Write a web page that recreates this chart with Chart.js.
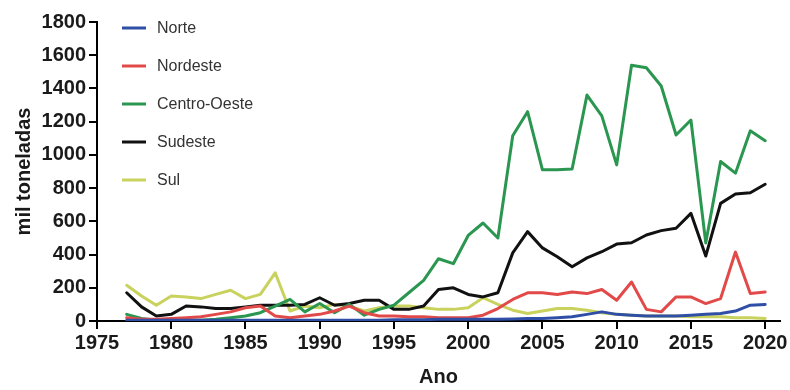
<!DOCTYPE html>
<html>
<head>
<meta charset="utf-8">
<script src="https://cdn.jsdelivr.net/npm/chart.js@4.4.1/dist/chart.umd.min.js"></script>
<style>
  html, body { margin: 0; padding: 0; background: #ffffff; }
  #wrap { width: 790px; height: 390px; position: relative; }
</style>
</head>
<body>
<div id="wrap"><canvas id="chart" width="790" height="390"></canvas></div>
<script>
// Production by region, thousand tonnes per year
const years = [1977, 1978, 1979, 1980, 1981, 1982, 1983, 1984, 1985, 1986,
               1987, 1988, 1989, 1990, 1991, 1992, 1993, 1994, 1995, 1996,
               1997, 1998, 1999, 2000, 2001, 2002, 2003, 2004, 2005, 2006,
               2007, 2008, 2009, 2010, 2011, 2012, 2013, 2014, 2015, 2016,
               2017, 2018, 2019, 2020];

const norte = [5, 5, 5, 5, 5, 5, 5, 5, 5, 5,
               5, 5, 5, 5, 5, 5, 5, 5, 8, 8,
               8, 10, 10, 10, 10, 10, 12, 15, 15, 20,
               25, 40, 55, 40, 35, 30, 30, 30, 35, 40,
               45, 60, 95, 100];

const nordeste = [20, 10, 10, 15, 20, 25, 40, 55, 80, 90,
                  30, 20, 30, 40, 60, 90, 50, 30, 30, 25,
                  25, 20, 20, 20, 35, 75, 130, 170, 170, 160,
                  175, 165, 190, 125, 235, 70, 55, 145, 145, 105,
                  135, 415, 165, 175];

const centroOeste = [40, 15, 5, 5, 5, 5, 10, 20, 30, 50,
                     90, 130, 55, 105, 50, 100, 35, 70, 95, 170,
                     245, 375, 345, 515, 590, 500, 1115, 1260, 910, 910,
                     915, 1360, 1235, 940, 1540, 1525, 1415, 1120, 1210, 470,
                     960, 890, 1145, 1085];

const sudeste = [170, 85, 30, 40, 90, 85, 75, 75, 85, 95,
                 95, 95, 100, 140, 95, 105, 125, 125, 70, 70,
                 90, 190, 200, 160, 145, 170, 410, 538, 440, 387,
                 327, 380, 417, 463, 471, 518, 544, 558, 648, 391,
                 708, 764, 772, 823];

const sul = [215, 150, 95, 150, 145, 135, 160, 185, 135, 160,
             290, 60, 90, 80, 100, 90, 60, 80, 90, 90,
             80, 70, 70, 80, 140, 100, 65, 45, 60, 75,
             75, 65, 50, 40, 35, 30, 30, 30, 25, 25,
             25, 20, 20, 15];

const seriesNames = ['Norte', 'Nordeste', 'Centro-Oeste', 'Sudeste', 'Sul'];
const seriesValues = [norte, nordeste, centroOeste, sudeste, sul];
const seriesColors = ['#2f4fa6', '#e24a4a', '#2a9650', '#111111', '#c8d25c'];

const xTicks = [1975, 1980, 1985, 1990, 1995, 2000, 2005, 2010, 2015, 2020];
const yTicks = [0, 200, 400, 600, 800, 1000, 1200, 1400, 1600, 1800];

const FONT = "'Liberation Sans', Arial, Helvetica, sans-serif";

// Vertical legend drawn inside the plot's upper-left corner
const insideLegend = {
  id: 'insideLegend',
  afterDraw(chart) {
    const { ctx, chartArea } = chart;
    ctx.save();
    ctx.font = `16px ${FONT}`;
    ctx.textBaseline = 'middle';
    ctx.textAlign = 'left';
    chart.data.datasets.forEach((ds, i) => {
      const y = chartArea.top + 6 + i * 38;
      const x0 = chartArea.left + 25;
      ctx.strokeStyle = ds.borderColor;
      ctx.lineWidth = 3;
      ctx.lineCap = 'butt';
      ctx.beginPath();
      ctx.moveTo(x0, y);
      ctx.lineTo(x0 + 24, y);
      ctx.stroke();
      ctx.fillStyle = '#333333';
      ctx.fillText(ds.label, x0 + 35, y + 1);
    });
    ctx.restore();
  }
};

const datasets = seriesNames.map((name, s) => ({
  label: name,
  data: years.map((yr, i) => ({ x: yr, y: seriesValues[s][i] })),
  borderColor: seriesColors[s],
  backgroundColor: seriesColors[s],
  borderWidth: 3,
  pointRadius: 0,
  tension: 0,
  fill: false,
  borderJoinStyle: 'round',
  borderCapStyle: 'round'
}));

new Chart(document.getElementById('chart'), {
  type: 'line',
  data: { datasets },
  options: {
    responsive: false,
    animation: false,
    layout: { padding: { top: 22, right: 10, bottom: 0, left: 0 } },
    plugins: {
      legend: { display: false },
      tooltip: { enabled: false }
    },
    scales: {
      x: {
        type: 'linear',
        min: 1975,
        max: 2021,
        afterBuildTicks(scale) { scale.ticks = xTicks.map(v => ({ value: v })); },
        afterFit(scale) { scale.height = 69; },
        ticks: {
          color: '#1a1a1a',
          font: { family: FONT, size: 20, weight: 'bold' },
          padding: 2,
          maxRotation: 0,
          autoSkip: false,
          callback: v => String(v)
        },
        grid: { display: true, drawOnChartArea: false, drawTicks: true, tickLength: 8, color: '#000', lineWidth: 2 },
        border: { display: true, color: '#000', width: 2 },
        title: {
          display: true,
          text: 'Ano',
          color: '#1a1a1a',
          font: { family: FONT, size: 20, weight: 'bold' },
          padding: { top: 0, bottom: 1 }
        }
      },
      y: {
        type: 'linear',
        min: 0,
        max: 1800,
        afterBuildTicks(scale) { scale.ticks = yTicks.map(v => ({ value: v })); },
        afterFit(scale) { scale.width = 97; },
        ticks: {
          color: '#1a1a1a',
          font: { family: FONT, size: 20, weight: 'bold' },
          padding: 3,
          autoSkip: false,
          callback: v => String(v)
        },
        grid: { display: true, drawOnChartArea: false, drawTicks: true, tickLength: 8, color: '#000', lineWidth: 2 },
        border: { display: true, color: '#000', width: 2 },
        title: {
          display: true,
          text: 'mil toneladas',
          color: '#1a1a1a',
          font: { family: FONT, size: 20, weight: 'bold' },
          padding: { top: 12, bottom: 0 }
        }
      }
    }
  },
  plugins: [insideLegend]
});
</script>
</body>
</html>
